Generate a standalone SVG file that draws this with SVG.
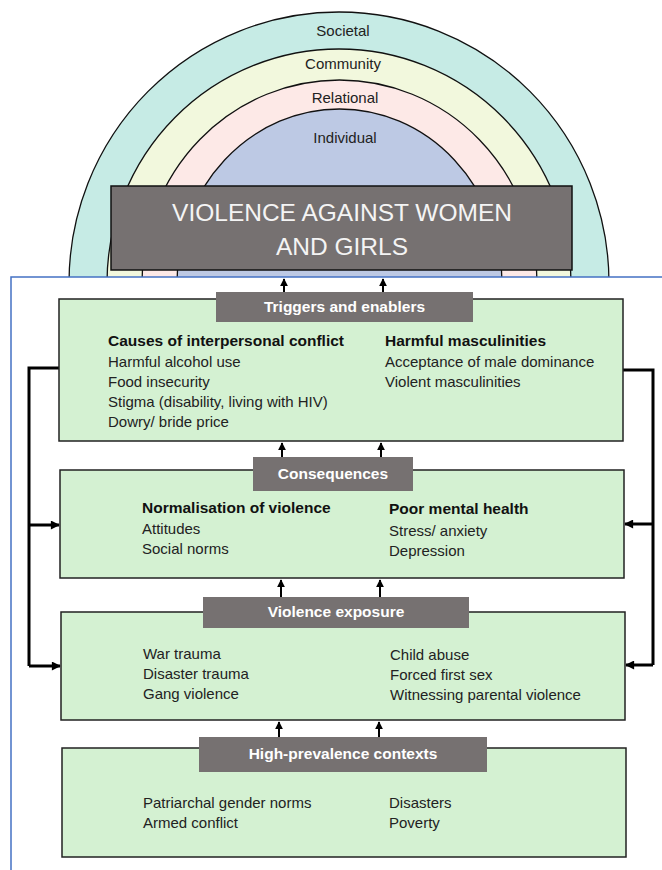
<svg xmlns="http://www.w3.org/2000/svg" width="662" height="870" viewBox="0 0 662 870">
<defs>
<style>
.arc{stroke:#111;stroke-width:1.3}
.lvl{font-family:"Liberation Sans",Arial,sans-serif;font-size:15px;fill:#222;text-anchor:middle}
.title{font-family:"Liberation Sans",Arial,sans-serif;font-size:24.5px;fill:#f4f4f4;text-anchor:middle}
.box{fill:#d4f1d2;stroke:#222;stroke-width:1.5}
.lab{fill:#767171}
.labt{font-family:"Liberation Sans",Arial,sans-serif;font-size:15.5px;font-weight:bold;fill:#ffffff;text-anchor:middle}
.h{font-family:"Liberation Sans",Arial,sans-serif;font-size:15.5px;font-weight:bold;fill:#111}
.t{font-family:"Liberation Sans",Arial,sans-serif;font-size:15px;fill:#222}
.up{stroke:#000;stroke-width:2;fill:none;marker-end:url(#ah)}
.conn{stroke:#000;stroke-width:3;fill:none}
.side{stroke:#000;stroke-width:3;fill:none;marker-end:url(#ah2)}
</style>
<marker id="ah" viewBox="0 0 10 10" refX="9" refY="5" markerWidth="4" markerHeight="4" orient="auto" markerUnits="strokeWidth"><path d="M0,0 L10,5 L0,10 z" fill="#000"/></marker>
<marker id="ah2" viewBox="0 0 10 10" refX="9" refY="5" markerWidth="3.3" markerHeight="3" orient="auto" markerUnits="strokeWidth"><path d="M0,0 L10,5 L0,10 z" fill="#000"/></marker>
</defs>
<rect width="662" height="870" fill="#ffffff"/>
<g id="levels">
<ellipse class="arc" cx="339" cy="283" rx="270" ry="271" fill="#c6ebe5"/>
<ellipse class="arc" cx="339" cy="283" rx="232" ry="234" fill="#f2f8dd"/>
<ellipse class="arc" cx="339.5" cy="283" rx="197.5" ry="203" fill="#fde9e7"/>
<ellipse class="arc" cx="339.5" cy="283" rx="162.5" ry="174" fill="#bdc9e4"/>
<text class="lvl" x="343" y="36">Societal</text>
<text class="lvl" x="343" y="69">Community</text>
<text class="lvl" x="345" y="103">Relational</text>
<text class="lvl" x="345" y="143">Individual</text>
</g>
<g id="vawg">
<rect x="111" y="186" width="461" height="84" fill="#767171" stroke="#111" stroke-width="1.5"/>
<text class="title" x="342" y="221">VIOLENCE AGAINST WOMEN</text>
<text class="title" x="342" y="255">AND GIRLS</text>
</g>
<g id="frame">
<rect x="11" y="277" width="651" height="593" fill="#ffffff"/>
<path d="M662,277 H11 V870" fill="none" stroke="#4472c4" stroke-width="1.5"/>
</g>
<g id="connectors">
<line class="up" x1="284" y1="292" x2="284" y2="279"/>
<line class="up" x1="383" y1="292" x2="383" y2="279"/>
<line class="up" x1="282" y1="457" x2="282" y2="443"/>
<line class="up" x1="381" y1="457" x2="381" y2="443"/>
<line class="up" x1="281" y1="597" x2="281" y2="580"/>
<line class="up" x1="380" y1="597" x2="380" y2="580"/>
<line class="up" x1="279" y1="737" x2="279" y2="722"/>
<line class="up" x1="379" y1="737" x2="379" y2="722"/>
<path class="conn" d="M59,368 H29 V666"/>
<path class="side" d="M29,525 H59"/>
<path class="side" d="M29,666 H60"/>
<path class="conn" d="M623,370 H653 V665"/>
<path class="side" d="M653,524 H625"/>
<path class="side" d="M653,665 H626"/>
</g>
<g id="triggers">
<rect class="box" x="59" y="299" width="564" height="142"/>
<rect class="lab" x="216" y="292" width="257" height="30"/>
<text class="labt" x="344.5" y="312">Triggers and enablers</text>
<text class="h" x="108" y="346">Causes of interpersonal conflict</text>
<text class="t" x="108" y="367">Harmful alcohol use</text>
<text class="t" x="108" y="387">Food insecurity</text>
<text class="t" x="108" y="407">Stigma (disability, living with HIV)</text>
<text class="t" x="108" y="427">Dowry/ bride price</text>
<text class="h" x="385" y="346">Harmful masculinities</text>
<text class="t" x="385" y="367">Acceptance of male dominance</text>
<text class="t" x="385" y="387">Violent masculinities</text>
</g>
<g id="consequences">
<rect class="box" x="60" y="470" width="564" height="108"/>
<rect class="lab" x="253" y="457" width="160" height="34"/>
<text class="labt" x="333" y="479">Consequences</text>
<text class="h" x="142" y="513">Normalisation of violence</text>
<text class="t" x="142" y="534">Attitudes</text>
<text class="t" x="142" y="554">Social norms</text>
<text class="h" x="389" y="514">Poor mental health</text>
<text class="t" x="389" y="536">Stress/ anxiety</text>
<text class="t" x="389" y="556">Depression</text>
</g>
<g id="exposure">
<rect class="box" x="61" y="612" width="564" height="108"/>
<rect class="lab" x="203" y="597" width="266" height="31"/>
<text class="labt" x="336" y="617">Violence exposure</text>
<text class="t" x="143" y="659">War trauma</text>
<text class="t" x="143" y="679">Disaster trauma</text>
<text class="t" x="143" y="699">Gang violence</text>
<text class="t" x="390" y="660">Child abuse</text>
<text class="t" x="390" y="680">Forced first sex</text>
<text class="t" x="390" y="700">Witnessing parental violence</text>
</g>
<g id="contexts">
<rect class="box" x="62" y="748" width="564" height="109"/>
<rect class="lab" x="199" y="737" width="288" height="35"/>
<text class="labt" x="343" y="759">High-prevalence contexts</text>
<text class="t" x="143" y="808">Patriarchal gender norms</text>
<text class="t" x="143" y="828">Armed conflict</text>
<text class="t" x="389" y="808">Disasters</text>
<text class="t" x="389" y="828">Poverty</text>
</g>
</svg>
